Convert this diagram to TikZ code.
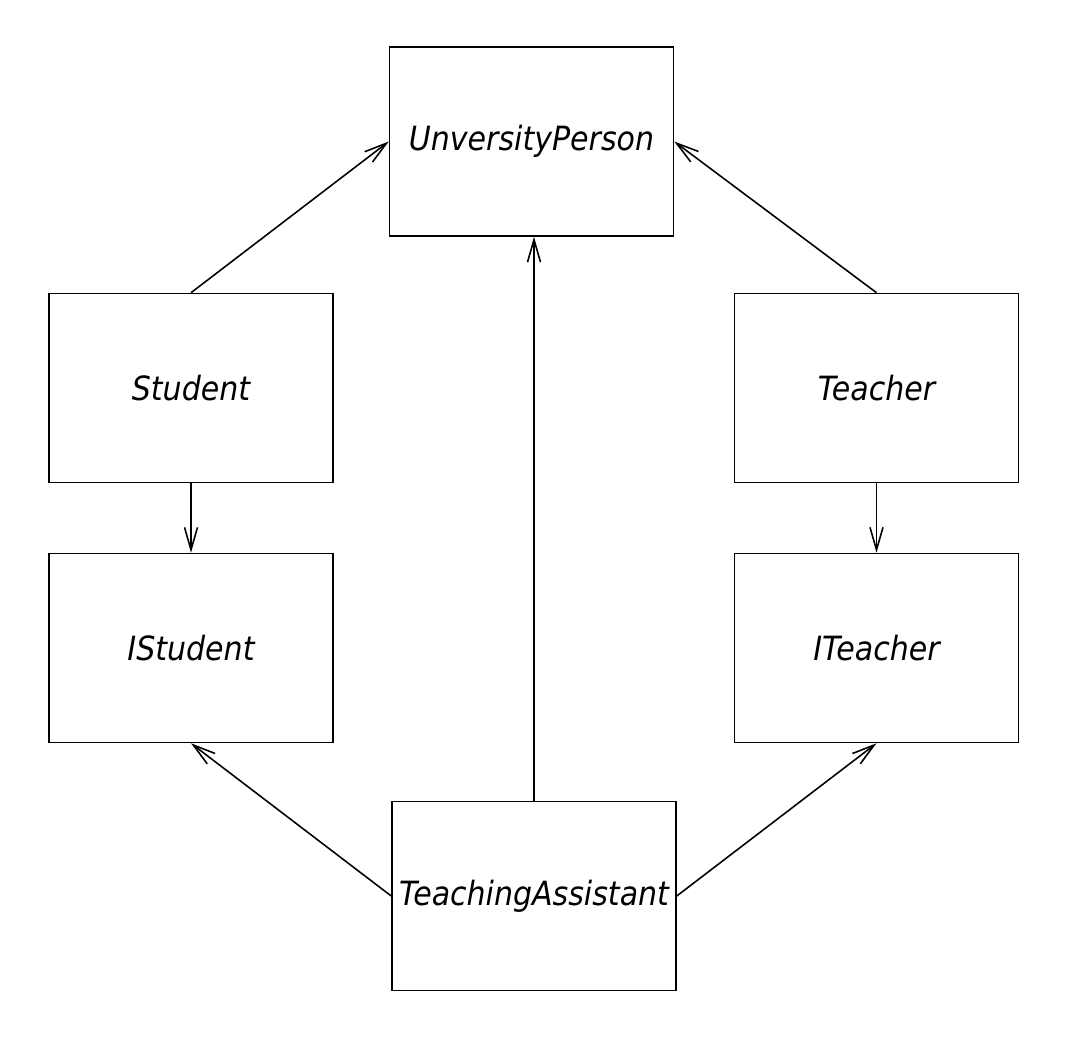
\documentclass[tikz,border=0pt]{standalone}
\usepackage{fontspec}
\setmainfont{DejaVu Sans Condensed}
\usetikzlibrary{positioning,arrows.meta}
\newcommand{\cnode}[3]{\node [classbox] (#1) at (#2) {\itshape #3}}

\begin{document}
\begin{tikzpicture}[x=0.02cm, y=-0.02cm, line width=0.9pt,
  >={Straight Barb[length=0.45cm, width=0.26cm]},
  classbox/.style={draw, rectangle, minimum width=5.68cm, minimum height=3.78cm, font=\fontsize{19}{22}\selectfont}]

\useasboundingbox (0,0) rectangle (1066,1055);

\cnode{UP}{531.5,141.5}{UnversityPerson};
\cnode{STU}{191,388}{Student};
\cnode{TEA}{876.5,388}{Teacher};
\cnode{ISTU}{191,648}{IStudent};
\cnode{ITEA}{876.5,648}{ITeacher};
\cnode{TA}{534,896}{TeachingAssistant};

\draw[->] (STU.north) -- (UP.west);
\draw[->] (TEA.north) -- (UP.east);
\draw[->] (TA.north) -- (TA.north |- UP.south);
\draw[->] (STU.south) -- (ISTU.north);
\draw[->] (TEA.south) -- (ITEA.north);
\draw[->] (TA.west) -- (ISTU.south);
\draw[->] (TA.east) -- (ITEA.south);

\end{tikzpicture}
\end{document}
